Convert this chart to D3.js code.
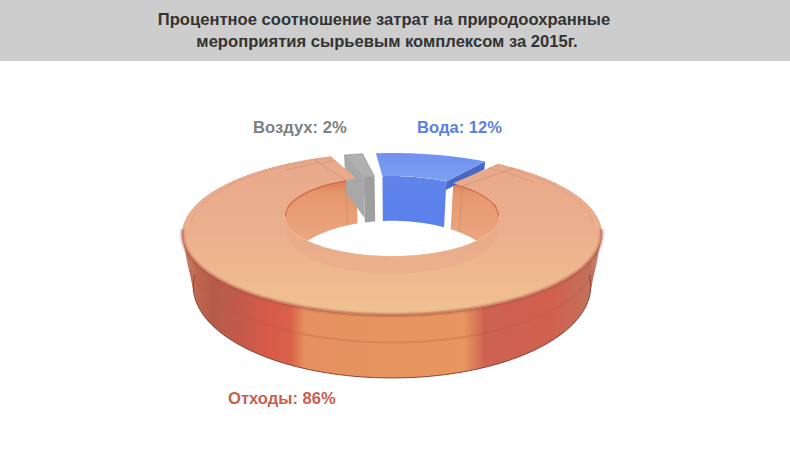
<!DOCTYPE html>
<html>
<head>
<meta charset="utf-8">
<script src="https://cdn.jsdelivr.net/npm/d3@7"></script>
<style>
  html, body { margin: 0; padding: 0; background: #fff; }
  svg { display: block; }
  text { font-family: "Liberation Sans", Arial, sans-serif; font-weight: bold; }
</style>
</head>
<body>
<svg id="chart" width="790" height="469"></svg>
<script>
// Data
const categories = ["Вода", "Отходы", "Воздух"];
const shares = [12, 86, 2];
const titleLines = [
  "Процентное соотношение затрат на природоохранные",
  "мероприятия сырьевым комплексом за 2015г."
];

// Colours per category
const faceColor = ["#7497ee", null, "#b0b0b0"];
const wallColor = ["#5b80ea", "#e49468", "#9e9e9e"];
const capColor  = ["#4a67c6", "#d98a60", "#a8a8a8"];
const labelColor = ["#5b7fe0", "#c8604f", "#808080"];

const deg = Math.PI / 180;
const svg = d3.select("#chart");
const defs = svg.append("defs");

// Perspective view of the ring: z = 0 top plane, z = 1 bottom plane
const view = { cx: 392, cy: 209.7, sx: 200, sy: 73.7, drop: 52.5, persp: 0.3, sink: 0.05 };
const R_OUT = 1, R_IN = 0.53;

function project(r, a, z) {
  const X = r * Math.sin(a), Y = r * Math.cos(a);
  const D = 1 + view.persp * Y + view.sink * z;
  return [view.cx + view.sx * X / D, view.cy - (view.sy * Y - view.drop * z) / D];
}

const line = d3.line();
const arcPts = (r, a0, a1, z) => {
  const n = Math.max(2, Math.ceil(Math.abs(a1 - a0) / (1.5 * deg)));
  return d3.range(n + 1).map(i => project(r, a0 + (a1 - a0) * i / n, z));
};
const band = (ptsA, ptsB) => line(ptsA.concat(ptsB.slice().reverse())) + "Z";

// wall as one path of same-wound quads, so the near and far sides never cancel
function wallPath(r, a0, a1) {
  const top = arcPts(r, a0, a1, 0), bot = arcPts(r, a0, a1, 1);
  return d3.range(top.length - 1).map(i => {
    const q = [top[i], top[i + 1], bot[i + 1], bot[i]];
    return line(d3.polygonArea(q) < 0 ? q.reverse() : q) + "Z";
  }).join("");
}

// Slices
const pad = 5 * deg;
const slices = d3.pie().sort(null).padAngle(pad).startAngle(-8.5 * deg).endAngle(351.5 * deg)(shares)
  .map((d, i) => ({
    i,
    a0: d.startAngle + pad / 2,
    a1: d.endAngle - pad / 2
  }));

// Gradients
function linear(id, x1, y1, x2, y2, stops) {
  const g = defs.append("linearGradient").attr("id", id)
    .attr("gradientUnits", "userSpaceOnUse")
    .attr("x1", x1).attr("y1", y1).attr("x2", x2).attr("y2", y2);
  stops.forEach(s => g.append("stop").attr("offset", s[0]).attr("stop-color", s[1]));
}
linear("outerWall", 183, 0, 602, 0, [
  [0, "#c98a72"], [0.03, "#c0684f"], [0.07, "#b45c48"], [0.13, "#c25a4c"], [0.2, "#d65a46"], [0.255, "#d9604a"],
  [0.29, "#e68f5e"], [0.45, "#e6955f"], [0.67, "#e8965f"], [0.72, "#cd6252"],
  [0.88, "#d2604f"], [0.97, "#c2705c"], [1, "#c09080"]
]);
linear("topFace", 0, 153, 0, 315, [
  [0, "#e8a88a"], [0.5, "#ecb08e"], [1, "#f1c190"]
]);
linear("innerWall", 0, 178, 0, 240, [
  [0, "#d9794f"], [0.25, "#e6976c"], [1, "#eba681"]
]);
linear("waterWall", 0, 175, 0, 225, [[0, "#5f84ea"], [1, "#5a80ee"]]);
linear("waterFace", 0, 150, 0, 180, [[0, "#6d90ee"], [1, "#7ca0f2"]]);

defs.append("filter").attr("id", "soft").attr("x", "-5%").attr("y", "-5%").attr("width", "110%").attr("height", "110%")
  .append("feGaussianBlur").attr("stdDeviation", 0.5);
defs.append("filter").attr("id", "softer").attr("x", "-5%").attr("y", "-20%").attr("width", "110%").attr("height", "140%")
  .append("feGaussianBlur").attr("stdDeviation", 1.2);

// Hole of the top plane clips the inner walls
defs.append("clipPath").attr("id", "hole").append("path")
  .attr("d", line(arcPts(R_IN, 0, 2 * Math.PI, 0)) + "Z");

// Header
svg.append("rect").attr("width", 790).attr("height", 61).attr("fill", "#cdcdcd");
svg.selectAll(".title").data(titleLines).join("text")
  .attr("class", "title")
  .attr("x", (d, i) => i ? 387 : 384)
  .attr("y", (d, i) => 25 + i * 22)
  .attr("text-anchor", "middle")
  .attr("font-size", 16.6)
  .attr("fill", "#333")
  .text(d => d);

const ring = svg.append("g").attr("filter", "url(#soft)");
const orange = slices[1], water = slices[0], air = slices[2];

// the far parts of the big slice, either side of the gap
const farArcs = [[orange.a0, 100 * deg], [260 * deg, orange.a1]];

// Outer wall of the big slice
ring.append("path")
  .attr("d", wallPath(R_OUT, orange.a0, orange.a1))
  .attr("fill", "url(#outerWall)");
ring.append("path")
  .attr("d", line(arcPts(R_OUT, 100 * deg, 260 * deg, 1)))
  .attr("fill", "none").attr("stroke", "#7d3a2c").attr("stroke-width", 0.9);
ring.append("path")
  .attr("d", line(arcPts(R_OUT, 105 * deg, 255 * deg, 0.42)))
  .attr("fill", "none").attr("stroke", "#b85a44").attr("stroke-opacity", 0.28).attr("stroke-width", 2);

// Inner walls seen through the hole
const wallG = ring.append("g").attr("clip-path", "url(#hole)");
slices.forEach(s => {
  wallG.append("path")
    .attr("d", wallPath(R_IN, s.a0, s.a1))
    .attr("fill", s.i === 1 ? "url(#innerWall)" : s.i === 0 ? "url(#waterWall)" : wallColor[s.i]);
});
// darker seam of the hole wall, far side only
farArcs.forEach(r => {
  wallG.append("path")
    .attr("d", line(arcPts(R_IN, r[0], r[1], 0)))
    .attr("fill", "none").attr("stroke", "#c8643f").attr("stroke-width", 3).attr("stroke-opacity", 0.75);
});

// Radial end faces turned to the viewer
function capPath(a, zEnd) {
  return band([project(R_IN, a, 0), project(R_OUT, a, 0)], [project(R_IN, a, zEnd), project(R_OUT, a, zEnd)]);
}
ring.append("path").attr("d", capPath(water.a1, 0.18)).attr("fill", capColor[0]);
ring.append("path").attr("d", capPath(air.a0, 0.9)).attr("fill", capColor[2]);

// Top faces
const faceD = s => band(arcPts(R_OUT, s.a0, s.a1, 0), arcPts(R_IN, s.a0, s.a1, 0));
ring.append("path").attr("d", faceD(water)).attr("fill", "url(#waterFace)");
ring.append("path").attr("d", faceD(air)).attr("fill", faceColor[2])
  .attr("stroke", "#909090").attr("stroke-width", 0.7);
ring.append("path").attr("d", faceD(orange)).attr("fill", "url(#topFace)");

// Refraction band in front of the hole
ring.append("path")
  .attr("d", band(arcPts(R_IN, 100 * deg, 260 * deg, 0), arcPts(R_IN, 100 * deg, 260 * deg, 0.3)))
  .attr("fill", "#e59f84").attr("fill-opacity", 0.3).attr("filter", "url(#soft)");

// Rim line on the far side and the faint marks near both cut ends
farArcs.forEach(r => {
  ring.append("path")
    .attr("d", line(arcPts(0.97, r[0], r[1], 0)))
    .attr("fill", "none").attr("stroke", "#d99a80").attr("stroke-opacity", 0.5).attr("stroke-width", 1);
});
[orange.a0 + 7 * deg, orange.a1 - 7 * deg].forEach(a => {
  ring.append("path")
    .attr("d", line([project(R_OUT, a, 0), project(R_IN, a, 0), project(R_IN, a, 1)]))
    .attr("fill", "none").attr("stroke", "#a86a50").attr("stroke-opacity", 0.3).attr("stroke-width", 1);
});
[[orange.a0, orange.a0 + 22 * deg], [orange.a1 - 22 * deg, orange.a1]].forEach(r => {
  ring.append("path")
    .attr("d", line(arcPts(0.9, r[0], r[1], 0)))
    .attr("fill", "none").attr("stroke", "#a86a50").attr("stroke-opacity", 0.25).attr("stroke-width", 1);
});
svg.append("path")
  .attr("d", line(arcPts(R_OUT, 104 * deg, 256 * deg, 0)))
  .attr("fill", "none").attr("stroke", "#a94f40").attr("stroke-width", 2.4)
  .attr("stroke-opacity", 0.8).attr("filter", "url(#softer)");

// Labels
const labelPos = [[417, 133], [228, 404], [253, 133]];
svg.selectAll(".label").data(categories).join("text")
  .attr("class", "label")
  .attr("x", (d, i) => labelPos[i][0])
  .attr("y", (d, i) => labelPos[i][1])
  .attr("font-size", 16.6)
  .attr("fill", (d, i) => labelColor[i])
  .text((d, i) => `${d}: ${shares[i]}%`);
</script>
</body>
</html>
